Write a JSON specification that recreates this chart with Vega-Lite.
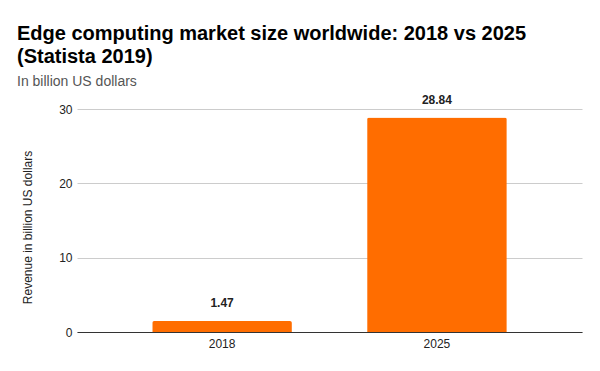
{
  "$schema": "https://vega.github.io/schema/vega-lite/v6.json",
  "width": 505,
  "height": 223,
  "autosize": "none",
  "padding": {"left": 77, "top": 109, "right": 18, "bottom": 39},
  "background": "white",
  "config": {
    "view": {"stroke": null},
    "font": "Liberation Sans"
  },
  "title": {
    "text": ["Edge computing market size worldwide: 2018 vs 2025", "(Statista 2019)"],
    "subtitle": "In billion US dollars",
    "anchor": "start",
    "frame": "group",
    "dx": -60,
    "offset": 5,
    "font": "Liberation Sans",
    "fontSize": 20,
    "fontWeight": "bold",
    "lineHeight": 23,
    "color": "#000000",
    "subtitleFont": "Liberation Sans",
    "subtitleFontSize": 14,
    "subtitleColor": "#555555",
    "subtitlePadding": 8
  },
  "data": {
    "values": [
      {"year": "2018", "revenue": 1.47},
      {"year": "2025", "revenue": 28.84}
    ]
  },
  "encoding": {
    "x": {
      "field": "year",
      "type": "nominal",
      "scale": {"paddingInner": 0.35, "paddingOuter": 0.35},
      "axis": {
        "title": null,
        "labelAngle": 0,
        "labelFontSize": 12,
        "labelColor": "#222222",
        "labelPadding": 6,
        "ticks": false,
        "tickSize": 0,
        "domain": true,
        "domainColor": "#333333",
        "domainWidth": 1
      }
    },
    "y": {
      "field": "revenue",
      "type": "quantitative",
      "scale": {"domain": [0, 30]},
      "axis": {
        "title": "Revenue in billion US dollars",
        "titleFontSize": 12,
        "titleFontWeight": "normal",
        "titleColor": "#222222",
        "titleX": -50,
        "titleY": 118,
        "titleBaseline": "middle",
        "values": [0, 10, 20, 30],
        "labelFontSize": 12,
        "labelColor": "#222222",
        "labelPadding": 5,
        "ticks": false,
        "tickSize": 0,
        "domain": false,
        "gridColor": "#cccccc",
        "gridWidth": 1
      }
    }
  },
  "layer": [
    {
      "mark": {"type": "bar", "color": "#FF6D00", "cornerRadiusTopLeft": 2, "cornerRadiusTopRight": 2}
    },
    {
      "mark": {"type": "text", "dy": -14, "baseline": "alphabetic", "fontWeight": "bold", "fontSize": 12, "color": "#222222"},
      "encoding": {"text": {"field": "revenue", "type": "quantitative", "format": ".2f"}}
    }
  ]
}
